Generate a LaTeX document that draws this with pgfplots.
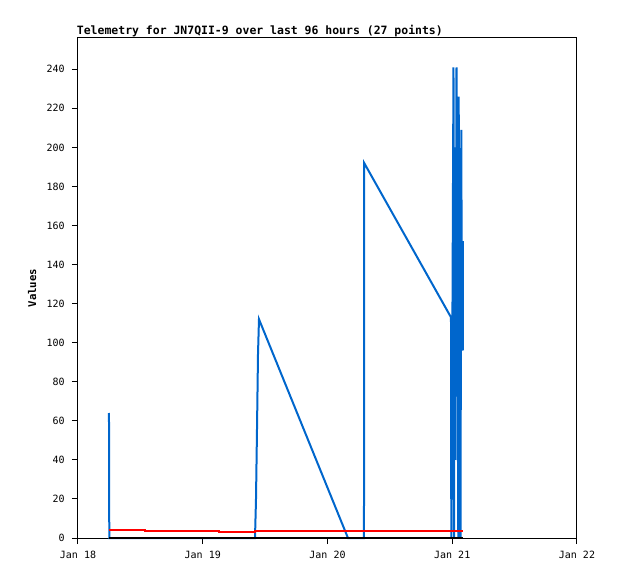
\documentclass[border=0pt]{standalone}
\usepackage{pgfplots}
\pgfplotsset{compat=1.18}
\usepackage{fontspec}
\setmainfont{DejaVu Sans Mono}
\setmonofont{DejaVu Sans Mono}
\definecolor{tblue}{HTML}{0066CC}
\definecolor{tred}{HTML}{FF0000}

% hours since Jan 18 00:00
\pgfplotstableread{
h     v
5.96  64
6.02  0
34.05 0
34.24 19
34.44 56
34.63 94
34.82 112
51.94 0
55.02 0
55.06 192
71.76 113
71.82 0
72.05 121
72.24 241
72.34 0
72.53 200
72.59 40
72.82 241
73.01 113
73.16 0
73.24 226
73.39 113
73.59 0
73.74 209
73.87 96
74.03 152
74.07 96
}\bluedata

\pgfplotstableread{
h     v
5.96  3.9
12.90 3.4
27.10 3.0
34.05 3.8
74.07 3.8
}\reddata

\begin{document}
\begin{tikzpicture}
\path[use as bounding box] (-58.5pt,-30.75pt) rectangle (405pt,403.5pt);
\begin{axis}[
  at={(0,0)}, anchor=south west,
  scale only axis,
  width=374.25pt, height=375pt,
  xmin=0, xmax=96, ymin=0, ymax=256,
  xtick={0,24,48,72,96},
  xticklabels={Jan 18,Jan 19,Jan 20,Jan 21,Jan 22},
  ytick={0,20,...,240},
  xtick pos=bottom, ytick pos=left,
  tick align=outside,
  major tick length=4.5pt,
  tick style={black, line width=0.75pt},
  axis line style={line width=0.75pt},
  tick label style={font=\fontsize{7.5}{8}\selectfont},
  /pgf/number format/assume math mode=true,
  xticklabel style={yshift=-2pt},
  yticklabel style={xshift=-2pt},
  every axis title shift=0pt,
  title={\bfseries Telemetry for JN7QII-9 over last 96 hours (27 points)},
  title style={at={(axis description cs:0,1)}, anchor=south west,
    inner sep=0pt, yshift=1pt, xshift=-1pt, font=\fontsize{8.6}{9}\selectfont},
  ylabel={\bfseries Values},
  ylabel style={at={(axis description cs:-0.092,0.5)}, anchor=center,
    font=\fontsize{8}{9}\selectfont},
  clip=false,
]
\addplot[tblue, line width=1.5pt, line join=miter] table[x=h, y=v] {\bluedata};
\addplot[tred, line width=1.5pt, const plot] table[x=h, y=v] {\reddata};
\addplot[black, line width=1.5pt] coordinates {(5.96,0) (74.07,0)};
\end{axis}
\end{tikzpicture}
\end{document}
